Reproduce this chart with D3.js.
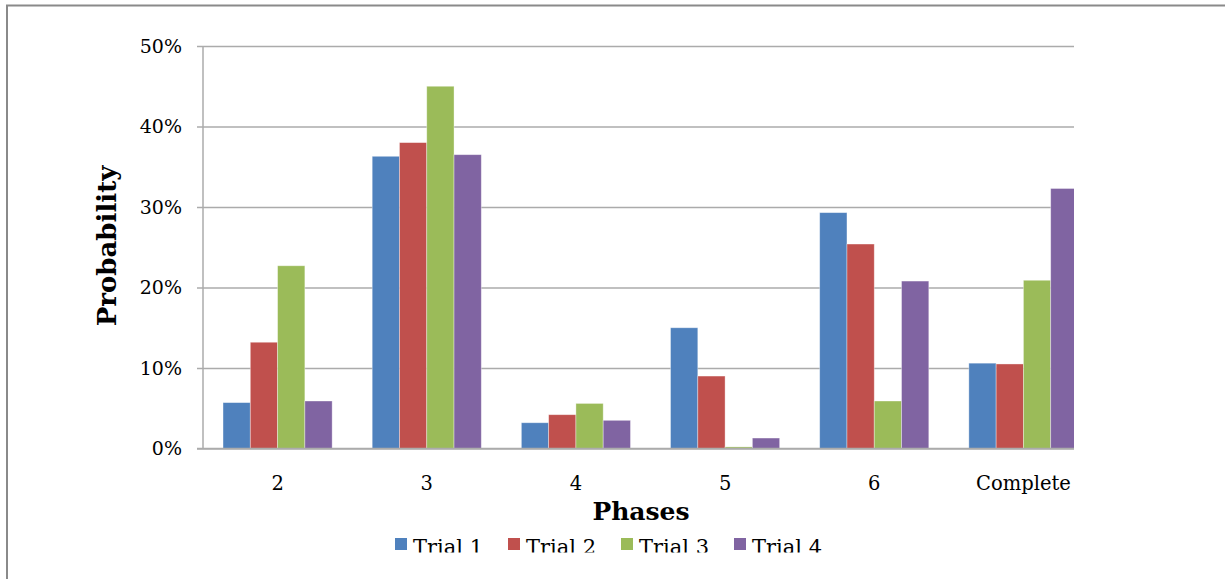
<!DOCTYPE html>
<html>
<head>
<meta charset="utf-8">
<script src="https://cdn.jsdelivr.net/npm/d3@7"></script>
<style>
  html, body { margin: 0; padding: 0; background: #fff; }
  svg { display: block; }
  text { font-family: "DejaVu Serif", "Liberation Serif", serif; fill: #000; }
</style>
</head>
<body>
<svg id="chart" width="1225" height="579"></svg>
<script>
// Phase categories and per-trial probabilities (%)
const phases = ["2", "3", "4", "5", "6", "Complete"];
const trials = ["Trial 1", "Trial 2", "Trial 3", "Trial 4"];
const trial1 = [5.7, 36.3, 3.2, 15.0, 29.3, 10.6];
const trial2 = [13.2, 38.0, 4.2, 9.0, 25.4, 10.5];
const trial3 = [22.7, 45.0, 5.6, 0.2, 5.9, 20.9];
const trial4 = [5.9, 36.5, 3.5, 1.3, 20.8, 32.3];
const yTicks = [0, 10, 20, 30, 40, 50];
const colors = ["#4F81BD", "#C0504D", "#9BBB59", "#8064A2"];

const series = [trial1, trial2, trial3, trial4];

const svg = d3.select("#chart");

// outer chart frame
svg.append("rect")
  .attr("x", 7).attr("y", 5.5)
  .attr("width", 1240).attr("height", 600)
  .attr("fill", "#fff").attr("stroke", "#8a8a8a").attr("stroke-width", 2);

const plotLeft = 203, plotTop = 46, plotBottom = 448.5, plotRight = 1098, visibleRight = 1074;

const x = d3.scaleBand().domain(phases).range([plotLeft, plotRight]).paddingInner(0).paddingOuter(0);
const inner = d3.scaleBand().domain(d3.range(trials.length))
  .range([0, x.bandwidth()]).paddingInner(0).paddingOuter(0.734);
const y = d3.scaleLinear().domain([0, 50]).range([plotBottom, plotTop]);

const defs = svg.append("defs");
defs.append("clipPath").attr("id", "plotClip")
  .append("rect").attr("x", 0).attr("y", 0).attr("width", visibleRight).attr("height", 579);
defs.append("clipPath").attr("id", "legendClip")
  .append("rect").attr("x", 0).attr("y", 520).attr("width", 1225).attr("height", 32.5);

const plot = svg.append("g").attr("clip-path", "url(#plotClip)");

// horizontal gridlines with small left ticks
const yAxis = d3.axisLeft(y).tickValues(yTicks)
  .tickSize(-(plotRight - plotLeft)).tickSizeOuter(0)
  .tickFormat(d => d + "%").tickPadding(21);
const yg = plot.append("g").attr("transform", `translate(${plotLeft},0)`).call(yAxis);
yg.select(".domain").remove();
yg.selectAll(".tick line")
  .attr("x1", -6)
  .attr("stroke", "#ababab").attr("stroke-width", 1.5);
yg.selectAll(".tick text")
  .style("font-size", "19px").attr("fill", "#000")
  .style("font-family", "'DejaVu Serif', serif");

// vertical axis line
plot.append("line")
  .attr("x1", plotLeft).attr("x2", plotLeft).attr("y1", plotTop).attr("y2", plotBottom)
  .attr("stroke", "#ababab").attr("stroke-width", 1.5);

// bars
const groups = plot.selectAll("g.phase").data(phases).join("g")
  .attr("class", "phase")
  .attr("transform", d => `translate(${x(d)},0)`);

groups.selectAll("rect").data((d, i) => series.map((s, k) => ({ k, v: s[i] }))).join("rect")
  .attr("x", d => inner(d.k))
  .attr("width", inner.bandwidth())
  .attr("y", d => y(d.v))
  .attr("height", d => plotBottom - y(d.v))
  .attr("fill", d => colors[d.k])
  .attr("stroke", "rgba(255,255,255,0.45)").attr("stroke-width", 0.8);

// baseline
plot.append("line")
  .attr("x1", plotLeft - 6).attr("x2", plotRight).attr("y1", plotBottom).attr("y2", plotBottom)
  .attr("stroke", "#ababab").attr("stroke-width", 1.5);

// category labels
const xAxis = d3.axisBottom(x).tickSize(0).tickPadding(28);
const xg = svg.append("g").attr("transform", `translate(0,${plotBottom})`).call(xAxis);
xg.select(".domain").remove();
xg.selectAll(".tick text").style("font-size", "19.5px")
  .style("font-family", "'DejaVu Serif', serif");

// axis titles
svg.append("text")
  .attr("transform", "translate(116,246) rotate(-90)")
  .attr("text-anchor", "middle")
  .style("font-size", "26px").style("font-weight", "bold")
  .text("Probability");

svg.append("text")
  .attr("x", 641).attr("y", 520)
  .attr("text-anchor", "middle")
  .style("font-size", "25px").style("font-weight", "bold")
  .text("Phases");

// legend
const legend = svg.append("g").attr("clip-path", "url(#legendClip)");
const legendX = d3.scalePoint().domain(trials).range([395, 734]);
const li = legend.selectAll("g").data(trials).join("g")
  .attr("transform", d => `translate(${legendX(d)},538)`);
li.append("rect").attr("width", 12).attr("height", 12)
  .attr("fill", (d, i) => colors[i]);
li.append("text").attr("x", 18).attr("y", 15.5)
  .style("font-size", "21px").text(d => d);
</script>
</body>
</html>
